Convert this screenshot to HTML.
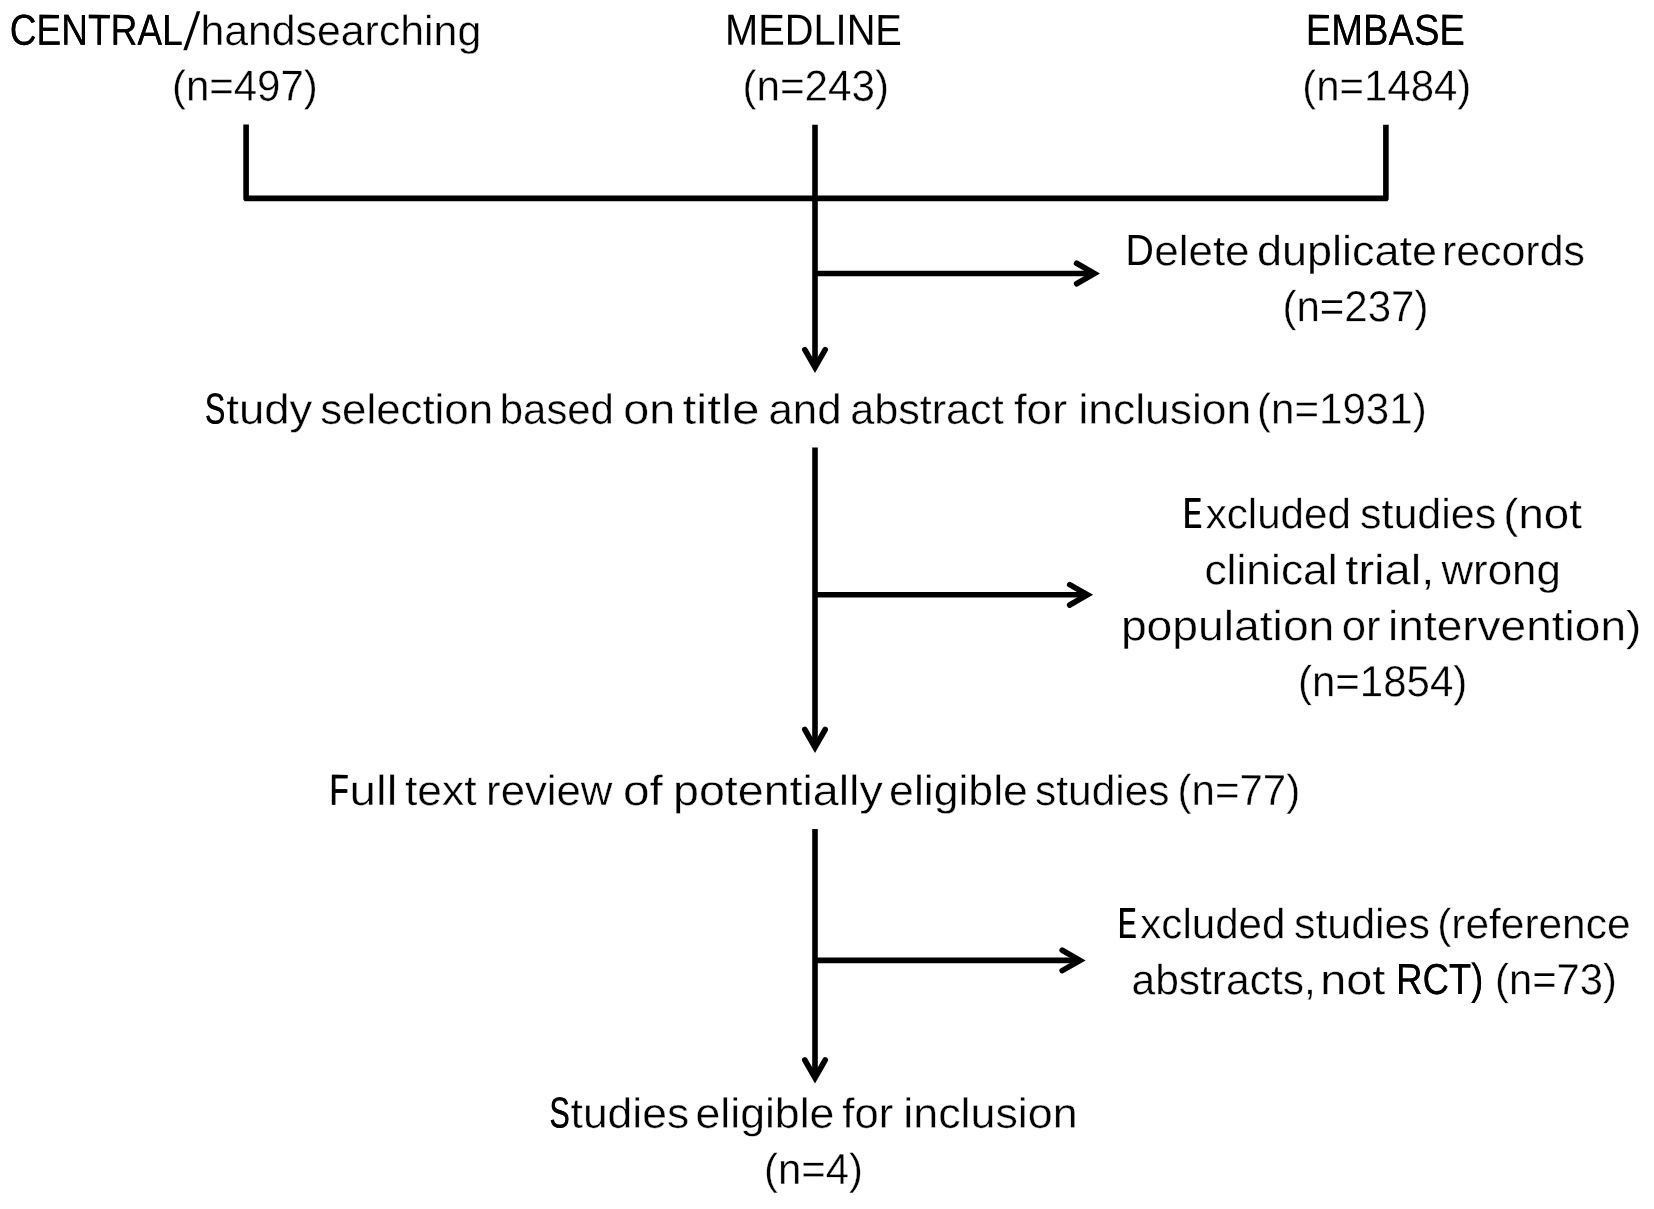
<!DOCTYPE html>
<html lang="en">
<head>
<meta charset="utf-8">
<title>Study selection flow diagram</title>
<style>
html,body{margin:0;padding:0;background:#fff;}
body{width:1654px;height:1209px;overflow:hidden;}
svg{display:block;filter:grayscale(1);}
text{font-family:"Liberation Sans",sans-serif;font-size:41.0px;fill:#000;text-rendering:geometricPrecision;stroke:#fff;stroke-width:0.35px;paint-order:fill stroke;}
text.c{stroke:none;}
.ln path{fill:none;stroke:#000;stroke-width:5.6;stroke-linecap:butt;stroke-linejoin:miter;}
.ln path.h{stroke-linecap:round;stroke-linejoin:miter;stroke-miterlimit:10;}
</style>
</head>
<body>
<svg width="1654" height="1209" viewBox="0 0 1654 1209">
<rect width="1654" height="1209" fill="#fff"/>
<g class="ln">
<path style="stroke-linejoin:round" d="M246.1 124.5V198.4H1385.9V124.8"/>
<path d="M815 124.8V367.4"/><path class="h" d="M804.8 349.6L815 367.4L825.2 349.6"/>
<path d="M815 273.5H1094.4"/><path class="h" d="M1076.6 263.3L1094.4 273.5L1076.6 283.7"/>
<path d="M815 447.5V747.3"/><path class="h" d="M804.8 729.5L815 747.3L825.2 729.5"/>
<path d="M815 594.8H1087.5"/><path class="h" d="M1069.7 584.6L1087.5 594.8L1069.7 605.0"/>
<path d="M815 829.0V1077.8"/><path class="h" d="M804.8 1060.0L815 1077.8L825.2 1060.0"/>
<path d="M815 960.4H1080.0"/><path class="h" d="M1062.2 950.2L1080.0 960.4L1062.2 970.6"/>
</g>
<g>
<polygon points="183.3,50.2 186.9,50.2 200.3,11.2 196.8,11.2"/>
<text class="c" transform="translate(9.65 44.75) rotate(0.05) scale(0.9038 1.06)">CENTRAL</text>
<text class="c" aria-hidden="true" transform="translate(9.85 44.75) rotate(0.05) scale(0.9038 1.06)">CENTRAL</text>
<text transform="translate(200.42 44.93) rotate(0.05) scale(1.0438 1.03)">handsearching</text>
<text class="c" transform="translate(725.02 44.75) rotate(0.05) scale(0.9705 1.06)">MEDLINE</text>
<text class="c" transform="translate(1305.65 44.75) rotate(0.05) scale(0.9316 1.06)">EMBASE</text>
<text class="c" aria-hidden="true" transform="translate(1305.75 44.75) rotate(0.05) scale(0.9316 1.06)">EMBASE</text>
<text transform="translate(171.90 100.69) rotate(0.05) scale(1.0241 1.06)">(n=497)</text>
<text transform="translate(742.38 100.69) rotate(0.05) scale(1.0292 1.06)">(n=243)</text>
<text transform="translate(1302.30 100.69) rotate(0.05) scale(1.0222 1.06)">(n=1484)</text>
<text class="c" transform="translate(1125.56 264.95) rotate(0.05) scale(0.9568 1.06)">D</text>
<text transform="translate(1154.35 265.13) rotate(0.05) scale(1.0702 1.03)">elete</text>
<text transform="translate(1257.00 265.13) rotate(0.05) scale(1.0969 1.03)">duplicate</text>
<text transform="translate(1441.92 265.13) rotate(0.05) scale(1.0463 1.03)">records</text>
<text transform="translate(1282.39 321.19) rotate(0.05) scale(1.0248 1.06)">(n=237)</text>
<text class="c" transform="translate(204.74 423.50) rotate(0.05) scale(0.7388 1.06)">S</text>
<text class="c" aria-hidden="true" transform="translate(205.22 423.50) rotate(0.05) scale(0.7388 1.06)">S</text>
<text transform="translate(226.27 423.68) rotate(0.05) scale(1.1090 1.03)">tudy</text>
<text transform="translate(320.21 423.68) rotate(0.05) scale(1.0679 1.03)">selection</text>
<text transform="translate(499.80 423.68) rotate(0.05) scale(1.0213 1.03)">based</text>
<text transform="translate(623.22 423.68) rotate(0.05) scale(1.1386 1.03)">on</text>
<text transform="translate(682.45 423.68) rotate(0.05) scale(1.2056 1.03)">title</text>
<text transform="translate(768.45 423.68) rotate(0.05) scale(1.0704 1.03)">and</text>
<text transform="translate(850.18 423.68) rotate(0.05) scale(1.0526 1.03)">abstract</text>
<text transform="translate(1013.92 423.68) rotate(0.05) scale(1.1126 1.03)">for</text>
<text transform="translate(1078.51 423.68) rotate(0.05) scale(1.0826 1.03)">inclusion</text>
<text transform="translate(1256.99 423.69) rotate(0.05) scale(1.0266 1.06)">(n=1931)</text>
<text class="c" transform="translate(1183.07 527.95) rotate(0.05) scale(0.6607 1.06)">E</text>
<text class="c" aria-hidden="true" transform="translate(1183.62 527.95) rotate(0.05) scale(0.6607 1.06)">E</text>
<text class="c" aria-hidden="true" transform="translate(1184.17 527.95) rotate(0.05) scale(0.6607 1.06)">E</text>
<text transform="translate(1205.69 528.13) rotate(0.05) scale(1.0274 1.03)">xcluded</text>
<text transform="translate(1359.93 528.13) rotate(0.05) scale(1.0500 1.03)">studies</text>
<text transform="translate(1503.25 528.13) rotate(0.05) scale(1.1127 1.03)">(not</text>
<text transform="translate(1204.42 584.18) rotate(0.05) scale(1.0825 1.03)">clinical</text>
<text transform="translate(1345.29 584.18) rotate(0.05) scale(1.1492 1.03)">trial,</text>
<text transform="translate(1441.41 584.18) rotate(0.05) scale(1.0698 1.03)">wrong</text>
<text transform="translate(1120.90 640.23) rotate(0.05) scale(1.1279 1.03)">population</text>
<text transform="translate(1341.76 640.23) rotate(0.05) scale(1.0659 1.03)">or</text>
<text transform="translate(1388.10 640.23) rotate(0.05) scale(1.1222 1.03)">intervention)</text>
<text transform="translate(1297.89 696.24) rotate(0.05) scale(1.0247 1.06)">(n=1854)</text>
<text class="c" transform="translate(329.33 804.70) rotate(0.05) scale(0.7584 1.06)">F</text>
<text class="c" aria-hidden="true" transform="translate(330.08 804.70) rotate(0.05) scale(0.7584 1.06)">F</text>
<text transform="translate(349.60 804.88) rotate(0.05) scale(1.1614 1.03)">ull</text>
<text transform="translate(405.05 804.88) rotate(0.05) scale(1.0811 1.03)">text</text>
<text transform="translate(486.06 804.88) rotate(0.05) scale(1.0669 1.03)">review</text>
<text transform="translate(623.07 804.88) rotate(0.05) scale(1.1636 1.03)">of</text>
<text transform="translate(672.97 804.88) rotate(0.05) scale(1.1362 1.03)">potentially</text>
<text transform="translate(889.12 804.88) rotate(0.05) scale(1.0866 1.03)">eligible</text>
<text transform="translate(1035.05 804.88) rotate(0.05) scale(1.0350 1.03)">studies</text>
<text transform="translate(1177.60 804.89) rotate(0.05) scale(1.0242 1.06)">(n=77)</text>
<text class="c" transform="translate(1117.67 938.00) rotate(0.05) scale(0.6607 1.06)">E</text>
<text class="c" aria-hidden="true" transform="translate(1118.22 938.00) rotate(0.05) scale(0.6607 1.06)">E</text>
<text class="c" aria-hidden="true" transform="translate(1118.77 938.00) rotate(0.05) scale(0.6607 1.06)">E</text>
<text transform="translate(1140.29 938.18) rotate(0.05) scale(1.0267 1.03)">xcluded</text>
<text transform="translate(1293.94 938.18) rotate(0.05) scale(1.0468 1.03)">studies</text>
<text transform="translate(1437.17 938.18) rotate(0.05) scale(1.0346 1.03)">(reference</text>
<text transform="translate(1131.51 994.18) rotate(0.05) scale(1.0369 1.03)">abstracts,</text>
<text transform="translate(1320.35 994.18) rotate(0.05) scale(1.1388 1.03)">not</text>
<text class="c" transform="translate(1396.09 994.00) rotate(0.05) scale(0.8902 1.06)">RCT)</text>
<text class="c" aria-hidden="true" transform="translate(1396.34 994.00) rotate(0.05) scale(0.8902 1.06)">RCT)</text>
<text transform="translate(1495.11 994.19) rotate(0.05) scale(1.0180 1.06)">(n=73)</text>
<text class="c" transform="translate(549.24 1127.50) rotate(0.05) scale(0.7388 1.06)">S</text>
<text class="c" aria-hidden="true" transform="translate(549.72 1127.50) rotate(0.05) scale(0.7388 1.06)">S</text>
<text transform="translate(570.54 1127.68) rotate(0.05) scale(1.0844 1.03)">tudies</text>
<text transform="translate(695.51 1127.68) rotate(0.05) scale(1.0882 1.03)">eligible</text>
<text transform="translate(842.36 1127.68) rotate(0.05) scale(1.0608 1.03)">for</text>
<text transform="translate(903.29 1127.68) rotate(0.05) scale(1.0923 1.03)">inclusion</text>
<text transform="translate(764.01 1183.89) rotate(0.05) scale(1.0209 1.06)">(n=4)</text>
</g>
</svg>
</body>
</html>
